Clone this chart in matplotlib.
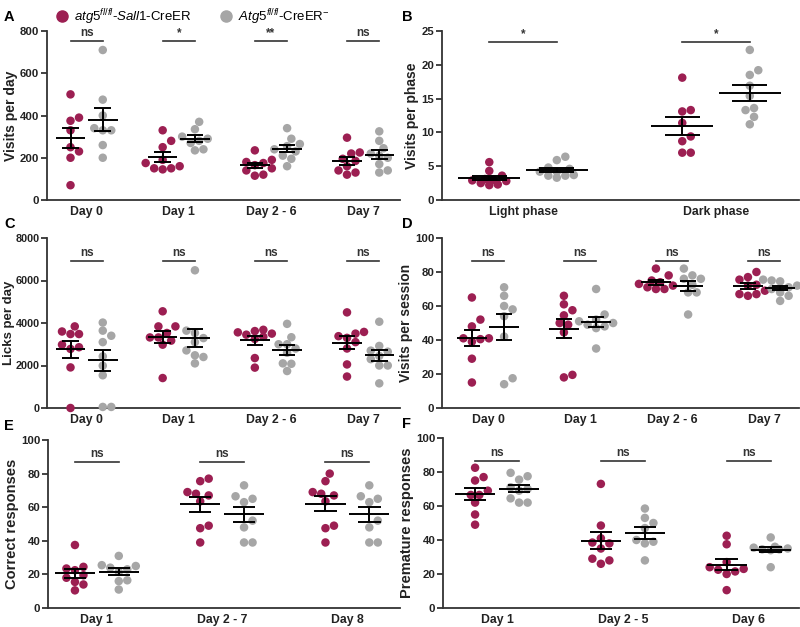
import numpy as np
import matplotlib
matplotlib.use('Agg')
import matplotlib.pyplot as plt
from matplotlib.lines import Line2D

plt.rcParams['font.family'] = ['Liberation Sans', 'DejaVu Sans']
plt.rcParams['mathtext.fontset'] = 'custom'
plt.rcParams['mathtext.rm'] = 'Liberation Sans'
plt.rcParams['mathtext.it'] = 'Liberation Sans:italic'

W, H = 800, 627
KO_COLOR = '#9c1f52'
CTRL_COLOR = '#a6a6a6'
AX_COLOR = '#333333'

# ---- data ----
# A: visits per day
a_cats = ['Day 0', 'Day 1', 'Day 2 - 6', 'Day 7']
a_ko = [[500, 390, 375, 330, 250, 230, 200, 70],
        [330, 280, 250, 190, 175, 160, 150, 145, 150],
        [235, 190, 180, 175, 165, 150, 140, 120, 115],
        [295, 225, 220, 195, 185, 160, 140, 120, 130]]
a_ctrl = [[710, 475, 400, 340, 330, 330, 260, 200],
          [370, 335, 300, 290, 280, 270, 240, 235],
          [340, 290, 265, 255, 240, 230, 210, 195, 160],
          [325, 280, 245, 220, 210, 200, 170, 140, 130]]
a_sig = ['ns', '*', '**', 'ns']

# B: visits per phase
b_cats = ['Light phase', 'Dark phase']
b_ko = [[5.6, 4.3, 3.6, 3.0, 2.9, 2.5, 2.2, 2.3, 2.8, 3.1],
        [18.1, 13.3, 13.1, 11.4, 9.4, 8.7, 7.0, 7.0]]
b_ctrl = [[6.4, 5.9, 4.8, 4.6, 4.2, 4.2, 3.6, 3.3, 3.6, 3.7],
          [22.2, 19.2, 18.5, 16.9, 15.4, 13.6, 13.3, 12.3, 11.2]]
b_sig = ['*', '*']

# C: licks per day
c_cats = ['Day 0', 'Day 1', 'Day 2 - 6', 'Day 7']
c_ko = [[3840, 3480, 3480, 3600, 2980, 2780, 2860, 1910, 0],
        [4550, 3840, 3840, 3530, 3320, 3320, 3170, 2980, 1410],
        [3620, 3560, 3500, 3680, 3450, 3350, 3250, 2350, 1900],
        [4500, 3500, 3580, 3380, 3300, 3100, 2800, 2050, 1480]]
c_ctrl = [[4020, 3640, 3400, 3100, 2430, 1990, 1540, 50, 50],
          [6480, 3640, 3530, 3290, 3100, 2710, 2480, 2400, 2100],
          [3960, 3330, 3000, 3000, 2800, 2600, 2100, 2080, 1740],
          [4060, 2920, 2700, 2650, 2450, 2300, 2000, 2000, 1160]]
c_sig = ['ns', 'ns', 'ns', 'ns']

# D: visits per session
d_cats = ['Day 0', 'Day 1', 'Day 2 - 6', 'Day 7']
d_ko = [[65, 52, 48, 40.5, 39, 41, 41, 29, 15],
        [66, 61, 57.5, 54.5, 50, 49, 44.5, 18, 19.5],
        [82, 78, 75, 74, 73, 72, 71, 70, 70],
        [80, 77, 75.5, 72.5, 72, 67, 66, 67, 69]]
d_ctrl = [[71, 66, 60, 58, 54, 42, 17.5, 14],
          [70, 55, 52, 51, 50, 49, 47, 48, 35],
          [82, 78, 76, 76, 72.5, 68, 68, 55],
          [75, 74.5, 75.5, 68, 71, 70, 63, 66, 72]]
d_sig = ['ns', 'ns', 'ns', 'ns']

# E: correct responses
e_cats = ['Day 1', 'Day 2 - 7', 'Day 8']
e_ko = [[37.5, 23.5, 24.5, 22.5, 19.5, 15.5, 14, 10.5, 18],
        [77, 75.5, 68, 69, 63.5, 67, 49, 47.5, 39],
        [80, 75.5, 68, 69, 63.5, 67, 49, 47.5, 39]]
e_ctrl = [[31, 25.5, 25, 23, 21.5, 16.5, 16, 11, 24],
          [73, 66.5, 65, 63, 52, 48, 39, 39],
          [73, 66.5, 65, 63, 52, 48, 39, 39]]
e_sig = ['ns', 'ns', 'ns']

# F: premature responses
f_cats = ['Day 1', 'Day 2 - 5', 'Day 6']
f_ko = [[82.5, 77, 75, 66.5, 69, 66.5, 62, 55, 49],
        [73, 48.5, 41, 38, 38.5, 29, 26, 28, 35],
        [42.5, 37.5, 27, 23, 21.5, 24, 20, 10.5, 22.5]]
f_ctrl = [[79.5, 77.5, 75.5, 71, 64.5, 62, 62, 69, 70],
          [58.5, 53, 50, 47, 40, 38, 39, 28],
          [41.5, 36, 35.5, 34.5, 34.5, 34, 35, 24]]
f_sig = ['ns', 'ns', 'ns']

DOT_PX = 8.5


def swarm(vals, ax, diam=DOT_PX, max_k=4):
    # simple beeswarm in pixel space, returns x offsets in data units
    pos = ax.get_position()
    x0, x1 = ax.get_xlim()
    y0, y1 = ax.get_ylim()
    sx = pos.width * W / (x1 - x0)
    sy = pos.height * H / (y1 - y0)
    ypx = np.asarray(vals, float) * sy
    offs = np.zeros(len(ypx))
    placed = []
    step = diam * 0.5
    cands = [0.0]
    for k in range(1, max_k + 1):
        cands += [k * step, -k * step]
    for i in np.argsort(ypx):
        best, best_d = 0.0, -1
        for c in cands:
            d = min([np.hypot(c - px, ypx[i] - py) for px, py in placed] + [1e9])
            if d >= diam * 0.95:
                best = c
                break
            if d > best_d + 0.5:
                best, best_d = c, d
        offs[i] = best
        placed.append((best, ypx[i]))
    return offs / sx


def mean_sem(ax, x, vals, half=0.16, cap=0.09):
    v = np.asarray(vals, float)
    m = v.mean()
    s = v.std(ddof=1) / np.sqrt(len(v))
    kw = dict(color='black', lw=1.4, zorder=5, solid_capstyle='butt')
    ax.plot([x - half, x + half], [m, m], **kw)
    ax.plot([x, x], [m - s, m + s], **kw)
    ax.plot([x - cap, x + cap], [m - s, m - s], **kw)
    ax.plot([x - cap, x + cap], [m + s, m + s], **kw)


def panel(rect, letter, cats, ko, ctrl, sig, ylim, yticks, ylabel, sig_y,
          xlim, ylab_size=10):
    ax = fig.add_axes(rect)
    ax.set_xlim(*xlim)
    ax.set_ylim(*ylim)
    dx = 0.175
    ms = (DOT_PX * 0.72) ** 2
    for i in range(len(cats)):
        for vals, xc, col in ((ko[i], i - dx, KO_COLOR), (ctrl[i], i + dx, CTRL_COLOR)):
            off = swarm(vals, ax)
            ax.scatter(xc + off, vals, s=ms, color=col, edgecolors='none',
                       zorder=3, clip_on=False)
            mean_sem(ax, xc, vals)
        ax.plot([i - dx, i + dx], [sig_y, sig_y], color=AX_COLOR, lw=1.2)
        ax.text(i, sig_y + (ylim[1] - ylim[0]) * 0.012, sig[i], ha='center',
                va='bottom', fontsize=8.5, fontweight='bold', color=AX_COLOR)
    ax.set_xticks(range(len(cats)))
    ax.set_xticklabels(cats, fontsize=8.8, fontweight='bold')
    ax.set_yticks(yticks)
    ax.set_yticklabels([str(t) for t in yticks], fontsize=8.2, fontweight='bold')
    ax.tick_params(axis='x', length=0, pad=4, colors='#222222')
    ax.tick_params(axis='y', length=4, width=1.2, pad=1.5, colors='#222222')
    for sp in ('top', 'right'):
        ax.spines[sp].set_visible(False)
    for sp in ('left', 'bottom'):
        ax.spines[sp].set_color(AX_COLOR)
        ax.spines[sp].set_linewidth(1.3)
    ax.set_ylabel(ylabel, fontsize=ylab_size, fontweight='bold', color='#222222',
                  labelpad=1.5)
    lx = 4 / W if rect[0] < 0.5 else 402 / W
    fig.text(lx, rect[1] + rect[3] + 14 / H, letter, fontsize=10.5,
             fontweight='bold', ha='left', va='center')
    return ax


fig = plt.figure(figsize=(W / 100, H / 100), dpi=100)


def rect(l, r, t, b):
    return [l / W, 1 - b / H, (r - l) / W, (b - t) / H]


panel(rect(47, 400, 31, 200), 'A', a_cats, a_ko, a_ctrl, a_sig, (0, 800),
      [0, 200, 400, 600, 800], 'Visits per day', 752, (-0.43, 3.4))
panel(rect(442, 799, 31, 200), 'B', b_cats, b_ko, b_ctrl, b_sig, (0, 25),
      [0, 5, 10, 15, 20, 25], 'Visits per phase', 23.3, (-0.42, 1.43))
ax_c = panel(rect(47, 400, 238, 408), 'C', c_cats, c_ko, c_ctrl, c_sig, (0, 8000),
             [0, 2000, 4000, 6000, 8000], 'Licks per day', 6900, (-0.43, 3.4), 9.5)
ax_c.tick_params(axis='y', labelsize=7.8, pad=1)
ax_c.yaxis.labelpad = 0.5
panel(rect(442, 799, 238, 408), 'D', d_cats, d_ko, d_ctrl, d_sig, (0, 100),
      [0, 20, 40, 60, 80, 100], 'Visits per session', 86.7, (-0.5, 3.38))
panel(rect(48, 400, 440, 608), 'E', e_cats, e_ko, e_ctrl, e_sig, (0, 100),
      [0, 20, 40, 60, 80, 100], 'Correct responses', 87, (-0.39, 2.42), 10.5)
panel(rect(443, 799, 438, 608), 'F', f_cats, f_ko, f_ctrl, f_sig, (0, 100),
      [0, 20, 40, 60, 80, 100], 'Premature responses', 86.6, (-0.43, 2.4), 10.5)

handles = [Line2D([], [], ls='none', marker='o', ms=8, color=KO_COLOR),
           Line2D([], [], ls='none', marker='o', ms=8, color=CTRL_COLOR)]
labels = [r'$\mathit{atg5}^{\mathit{fl/fl}}$-$\mathit{Sall1}$-CreER',
          r'$\mathit{Atg5}^{\mathit{fl/fl}}$-CreER$^{-}$']
fig.legend(handles, labels, loc='center', bbox_to_anchor=(0.24, 1 - 17 / H),
           ncol=2, frameon=False, fontsize=9.5, handletextpad=0.3,
           columnspacing=2.0, handlelength=1.2)

fig.savefig('out.png', dpi=100)
